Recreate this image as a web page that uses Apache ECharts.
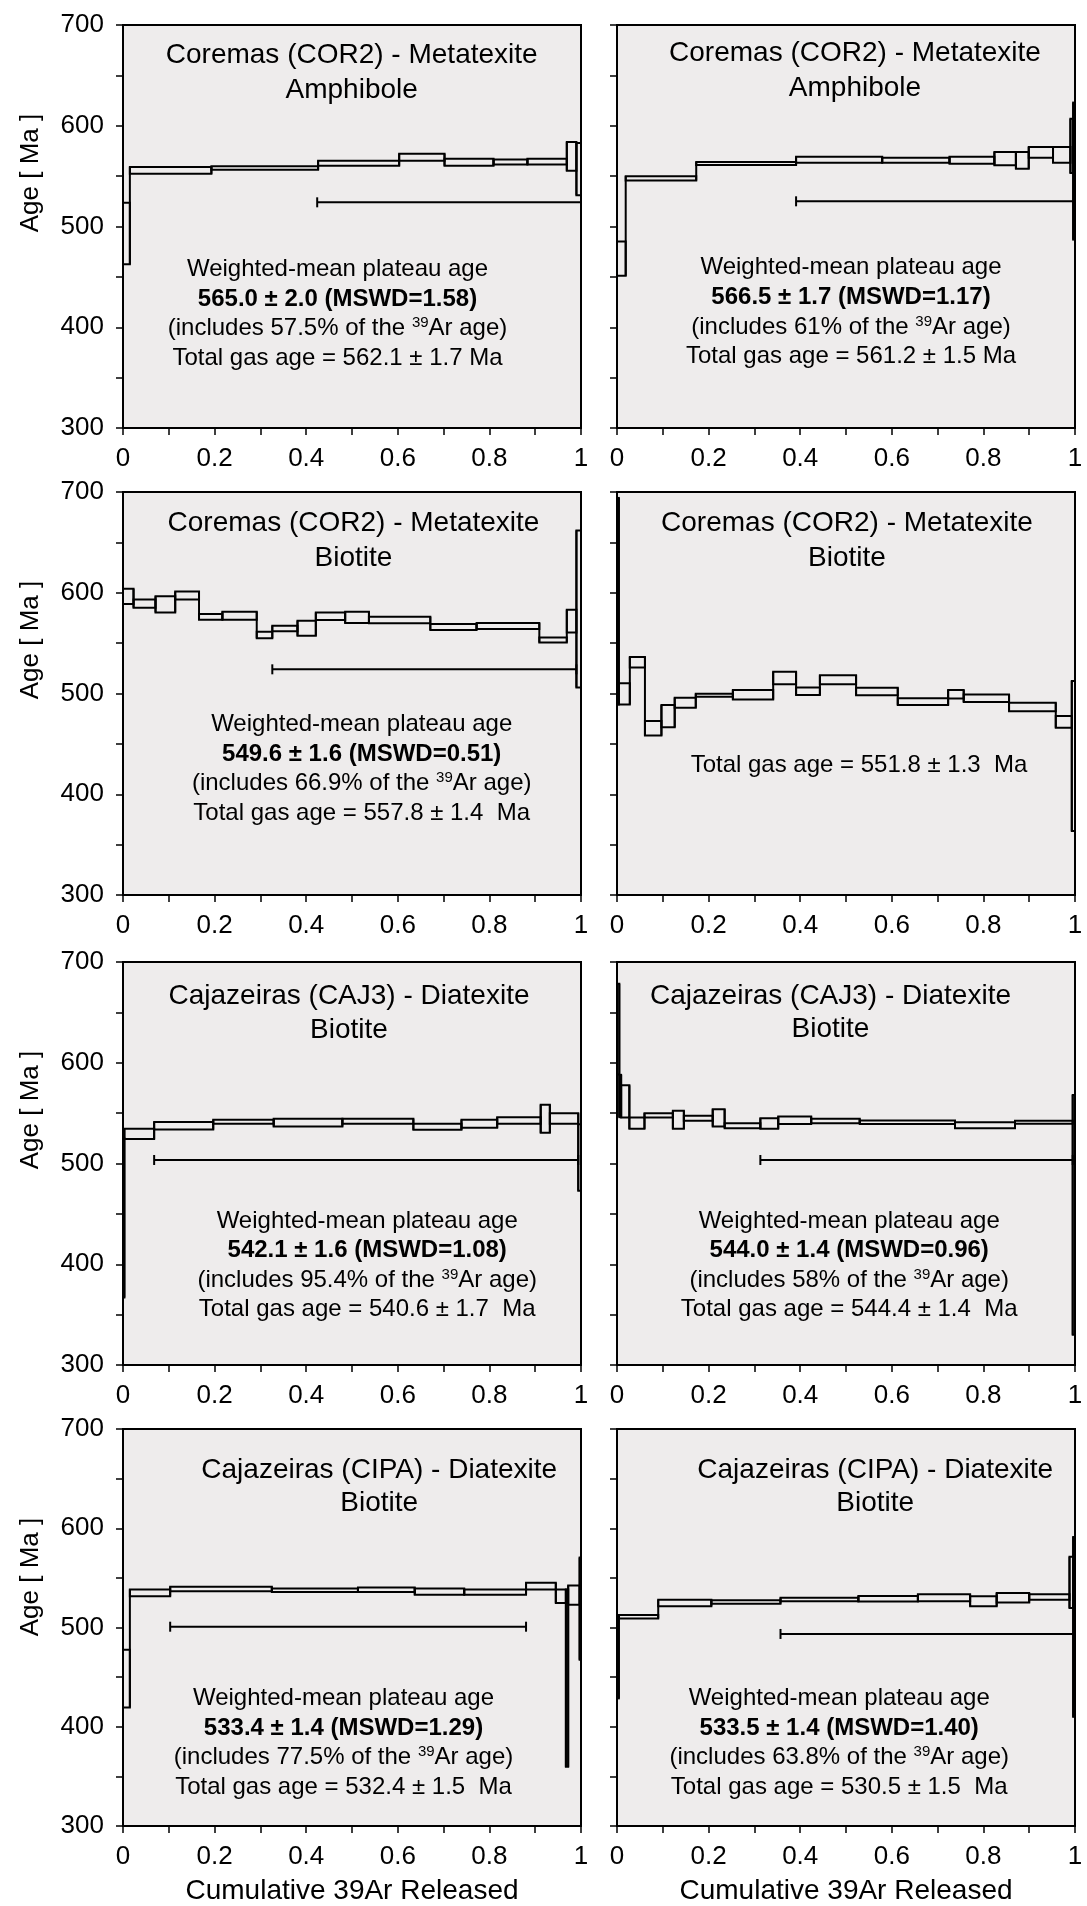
<!DOCTYPE html>
<html>
<head>
<meta charset="utf-8">
<script src="https://cdn.jsdelivr.net/npm/echarts@6/dist/echarts.min.js"></script>
<style>
  html, body { margin: 0; padding: 0; background: #fff; }
  #chart { width: 1087px; height: 1906px; }
</style>
</head>
<body>
<div id="chart"></div>
<script>
// step heating spectra: cumulative 39Ar boundaries, step ages and 1-sigma errors (Ma)
const corAmphACum = [0, 0.015, 0.193, 0.426, 0.603, 0.702, 0.809, 0.883, 0.969, 0.990, 1.0];
const corAmphAAge = [493, 555.7, 558.1, 562.8, 568.8, 563.8, 564.1, 564.4, 569.6, 557];
const corAmphAErr = [30.5, 3.4, 1.8, 2.5, 3.5, 3.5, 2.5, 2.8, 14.3, 26];
const corAmphAPlateau = [0.424, 1.0, 524];

const corAmphBCum = [0, 0.019, 0.173, 0.391, 0.579, 0.726, 0.824, 0.871, 0.899, 0.952, 0.990, 0.996, 1.0];
const corAmphBAge = [468, 547.8, 562.5, 566.3, 565.8, 565.8, 567.3, 565.6, 573.6, 571, 580, 555];
const corAmphBErr = [17, 2.2, 1.5, 3, 2.5, 3.5, 6.6, 8.3, 5.3, 7.8, 27, 68];
const corAmphBPlateau = [0.391, 1.0, 525];

const corBioACum = [0, 0.023, 0.071, 0.114, 0.166, 0.217, 0.292, 0.326, 0.381, 0.421, 0.485, 0.537, 0.671, 0.772, 0.909, 0.969, 0.990, 1.0];
const corBioAAge = [596.4, 589.2, 588.5, 597.2, 576.1, 577.2, 558.1, 564.6, 564.8, 576.6, 575.6, 573, 566, 567, 553.2, 571.9, 583.9];
const corBioAErr = [7.5, 4, 8, 4, 2.8, 4, 3.2, 2.7, 7.5, 3.7, 5.6, 3.2, 3, 3, 2.5, 11.3, 78];
const corBioAPlateau = [0.326, 0.990, 524];

const corBioBCum = [0, 0.004, 0.028, 0.061, 0.097, 0.126, 0.172, 0.253, 0.341, 0.391, 0.443, 0.522, 0.613, 0.723, 0.757, 0.856, 0.958, 0.993, 1.0];
const corBioBAge = [591.6, 499.7, 531, 465.4, 477.5, 490.9, 498.3, 498.8, 515.3, 502.2, 513.6, 502, 491.9, 499.3, 495.3, 486.7, 471.8, 438];
const corBioBErr = [102.5, 10.5, 5.3, 7.2, 11, 5, 1.5, 4.7, 6.2, 3.7, 4.5, 3.8, 3.3, 4.2, 3.8, 4.2, 5.8, 74.5];

const caj3ACum = [0, 0.003, 0.068, 0.197, 0.329, 0.479, 0.634, 0.739, 0.817, 0.912, 0.932, 0.994, 1.0];
const caj3AAge = [446, 529.4, 537.4, 541.4, 540.5, 541.9, 536.4, 539.4, 542.7, 544.4, 544.7, 506];
const caj3AErr = [79, 5, 3.7, 2, 3.8, 2.5, 3, 4, 3.3, 14, 5.3, 33];
const caj3APlateau = [0.068, 0.994, 503.5];

const caj3BCum = [0, 0.005, 0.009, 0.027, 0.06, 0.122, 0.146, 0.209, 0.235, 0.313, 0.352, 0.424, 0.53, 0.738, 0.869, 0.995, 1.0];
const caj3BAge = [633.4, 567, 561.6, 540, 547.8, 543.4, 544.9, 545.3, 537.5, 539.7, 543, 542.2, 541, 538, 540.9, 449];
const caj3BErr = [45, 21, 16, 5.6, 2.2, 9, 2.5, 8.6, 2.5, 5.3, 3.7, 2.2, 1.7, 3, 1.5, 119];
const caj3BPlateau = [0.313, 0.995, 503.5];

const cipaACum = [0, 0.015, 0.103, 0.325, 0.513, 0.637, 0.745, 0.880, 0.945, 0.967, 0.972, 0.997, 1.0];
const cipaAAge = [448.5, 534.9, 538.7, 537.5, 538, 536.2, 535.7, 541.7, 531.6, 449, 532.7, 519];
const cipaAErr = [29, 3.5, 2.3, 1.8, 2.3, 3.2, 2.7, 3.3, 6.8, 89.4, 9.7, 51.5];
const cipaAPlateau = [0.103, 0.880, 500.8];

const cipaBCum = [0, 0.004, 0.09, 0.206, 0.357, 0.527, 0.657, 0.771, 0.829, 0.9, 0.988, 0.996, 1.0];
const cipaBAge = [469.6, 510.8, 524.7, 525.7, 528.2, 529, 529.9, 526.4, 529.9, 530.7, 545.5, 500.6];
const cipaBErr = [41, 1.7, 3.3, 1.7, 1.8, 2.7, 3.5, 5, 4.8, 2.7, 25.8, 90.6];
const cipaBPlateau = [0.357, 1.0, 493.5];

const xTicks = [0, 0.2, 0.4, 0.6, 0.8, 1];
const yTicks = [300, 400, 500, 600, 700];

const FONT = '"Liberation Sans", Arial, Helvetica, sans-serif';
const LEFT = [123, 617];
const TOP = [25, 492, 962, 1429];
const W = 458, H = 403;

const panels = [
  { row: 0, col: 0, cum: corAmphACum, age: corAmphAAge, err: corAmphAErr, plateau: corAmphAPlateau,
    title: ['Coremas (COR2) - Metatexite', 'Amphibole'], tPos: [228.7, 30.7, 65],
    lines: ['Weighted-mean plateau age', '565.0 ± 2.0 (MSWD=1.58)', '(includes 57.5% of the {sup|39}Ar age)', 'Total gas age = 562.1 ± 1.7 Ma'], lPos: [214.5, 244.3] },
  { row: 0, col: 1, cum: corAmphBCum, age: corAmphBAge, err: corAmphBErr, plateau: corAmphBPlateau,
    title: ['Coremas (COR2) - Metatexite', 'Amphibole'], tPos: [238, 28.3, 63.3],
    lines: ['Weighted-mean plateau age', '566.5 ± 1.7 (MSWD=1.17)', '(includes 61% of the {sup|39}Ar age)', 'Total gas age = 561.2 ± 1.5 Ma'], lPos: [234, 242.7] },
  { row: 1, col: 0, cum: corBioACum, age: corBioAAge, err: corBioAErr, plateau: corBioAPlateau,
    title: ['Coremas (COR2) - Metatexite', 'Biotite'], tPos: [230.5, 31.3, 66.3],
    lines: ['Weighted-mean plateau age', '549.6 ± 1.6 (MSWD=0.51)', '(includes 66.9% of the {sup|39}Ar age)', 'Total gas age = 557.8 ± 1.4  Ma'], lPos: [238.7, 232.3] },
  { row: 1, col: 1, cum: corBioBCum, age: corBioBAge, err: corBioBErr, plateau: null,
    title: ['Coremas (COR2) - Metatexite', 'Biotite'], tPos: [230, 31.3, 66.3],
    lines: ['Total gas age = 551.8 ± 1.3  Ma'], lPos: [242, 273] },
  { row: 2, col: 0, cum: caj3ACum, age: caj3AAge, err: caj3AErr, plateau: caj3APlateau,
    title: ['Cajazeiras (CAJ3) - Diatexite', 'Biotite'], tPos: [226, 34.7, 68],
    lines: ['Weighted-mean plateau age', '542.1 ± 1.6 (MSWD=1.08)', '(includes 95.4% of the {sup|39}Ar age)', 'Total gas age = 540.6 ± 1.7  Ma'], lPos: [244.2, 259] },
  { row: 2, col: 1, cum: caj3BCum, age: caj3BAge, err: caj3BErr, plateau: caj3BPlateau,
    title: ['Cajazeiras (CAJ3) - Diatexite', 'Biotite'], tPos: [213.5, 34.7, 67],
    lines: ['Weighted-mean plateau age', '544.0 ± 1.4 (MSWD=0.96)', '(includes 58% of the {sup|39}Ar age)', 'Total gas age = 544.4 ± 1.4  Ma'], lPos: [232.2, 259] },
  { row: 3, col: 0, cum: cipaACum, age: cipaAAge, err: cipaAErr, plateau: cipaAPlateau,
    title: ['Cajazeiras (CIPA) - Diatexite', 'Biotite'], tPos: [256.2, 41, 74.3],
    lines: ['Weighted-mean plateau age', '533.4 ± 1.4 (MSWD=1.29)', '(includes 77.5% of the {sup|39}Ar age)', 'Total gas age = 532.4 ± 1.5  Ma'], lPos: [220.5, 269.3] },
  { row: 3, col: 1, cum: cipaBCum, age: cipaBAge, err: cipaBErr, plateau: cipaBPlateau,
    title: ['Cajazeiras (CIPA) - Diatexite', 'Biotite'], tPos: [258.2, 41, 74.3],
    lines: ['Weighted-mean plateau age', '533.5 ± 1.4 (MSWD=1.40)', '(includes 63.8% of the {sup|39}Ar age)', 'Total gas age = 530.5 ± 1.5  Ma'], lPos: [222.2, 269.3] }
];

const LINE = { stroke: '#000', lineWidth: 2 };

function renderStep(params, api) {
  const a = api.coord([api.value(0), api.value(3)]);
  const b = api.coord([api.value(1), api.value(2)]);
  return {
    type: 'rect',
    shape: { x: a[0], y: a[1], width: b[0] - a[0], height: b[1] - a[1] },
    style: { fill: 'none', stroke: '#000', lineWidth: 2 }
  };
}

// vertical edge joining two neighbouring steps
function renderJoin(params, api) {
  const a = api.coord([api.value(0), api.value(1)]);
  const b = api.coord([api.value(0), api.value(2)]);
  return { type: 'line', shape: { x1: a[0], y1: a[1], x2: b[0], y2: b[1] }, style: LINE };
}

function renderPlateau(params, api) {
  const a = api.coord([api.value(0), api.value(2)]);
  const b = api.coord([api.value(1), api.value(2)]);
  return {
    type: 'group',
    children: [
      { type: 'line', shape: { x1: a[0], y1: a[1], x2: b[0], y2: b[1] }, style: LINE },
      { type: 'line', shape: { x1: a[0], y1: a[1] - 5, x2: a[0], y2: a[1] + 5 }, style: LINE },
      { type: 'line', shape: { x1: b[0], y1: b[1] - 5, x2: b[0], y2: b[1] + 5 }, style: LINE }
    ]
  };
}

const grids = [], xAxes = [], yAxes = [], series = [], graphics = [];

panels.forEach((p, i) => {
  const left = LEFT[p.col], top = TOP[p.row];
  grids.push({ left: left, top: top, width: W, height: H, show: true,
    backgroundColor: '#eeecec', borderColor: '#000', borderWidth: 2 });

  xAxes.push({
    gridIndex: i, type: 'value', min: 0, max: 1, interval: 0.1,
    axisLine: { onZero: false, lineStyle: { color: '#000', width: 2 } },
    axisTick: { length: 7, lineStyle: { color: '#000', width: 1.5 } },
    axisLabel: { margin: 18, fontSize: 26, color: '#000', fontFamily: FONT,
      showMinLabel: true, showMaxLabel: true,
      formatter: v => {
        const t = xTicks.find(x => Math.abs(x - v) < 1e-6);
        return t === undefined ? '' : String(t);
      } },
    splitLine: { show: false },
    name: p.row === 3 ? 'Cumulative 39Ar Released' : '',
    nameLocation: 'middle', nameGap: 51,
    nameTextStyle: { fontSize: 28, color: '#000', fontFamily: FONT }
  });

  yAxes.push({
    gridIndex: i, type: 'value', min: 300, max: 700, interval: 50,
    axisLine: { onZero: false, lineStyle: { color: '#000', width: 2 } },
    axisTick: { length: 7, lineStyle: { color: '#000', width: 1.5 } },
    axisLabel: { show: p.col === 0, margin: 19, fontSize: 26, color: '#000', fontFamily: FONT,
      formatter: v => yTicks.indexOf(v) >= 0 ? String(v) : '' },
    splitLine: { show: false }
  });

  const steps = p.age.map((a, k) => [p.cum[k], p.cum[k + 1], a - p.err[k], a + p.err[k]]);
  const joins = steps.slice(1).map((s, k) => [s[0],
    Math.min(s[2], steps[k][2]), Math.max(s[3], steps[k][3])]);
  series.push({
    type: 'custom', xAxisIndex: i, yAxisIndex: i, renderItem: renderStep,
    encode: { x: [0, 1], y: [2, 3] }, data: steps, z: 3, silent: true
  });
  series.push({
    type: 'custom', xAxisIndex: i, yAxisIndex: i, renderItem: renderJoin,
    encode: { x: 0, y: [1, 2] }, data: joins, z: 3, silent: true
  });
  if (p.plateau) {
    series.push({
      type: 'custom', xAxisIndex: i, yAxisIndex: i, renderItem: renderPlateau,
      encode: { x: [0, 1], y: 2 }, data: [p.plateau], z: 2, silent: true
    });
  }

  // annotations
  p.title.forEach((t, k) => {
    graphics.push({ type: 'text', x: left + p.tPos[0], y: top + p.tPos[k + 1], z: 10,
      style: { text: t, fontSize: 28, fontFamily: FONT, fill: '#000', textAlign: 'center', verticalAlign: 'middle' } });
  });
  p.lines.forEach((t, k) => {
    const bold = t.indexOf('MSWD') >= 0;
    graphics.push({ type: 'text', x: left + p.lPos[0], y: top + p.lPos[1] + k * 29.6, z: 10,
      style: { text: t, fontSize: 24, fontWeight: bold ? 'bold' : 'normal', fontFamily: FONT, fill: '#000',
        textAlign: 'center', verticalAlign: 'middle',
        rich: { sup: { fontSize: 15, fontFamily: FONT, verticalAlign: 'top', lineHeight: 26 } } } });
  });
  if (p.col === 0) {
    graphics.push({ type: 'text', x: 31, y: top + 148, rotation: Math.PI / 2, z: 10,
      style: { text: 'Age [ Ma ]', fontSize: 26, fontFamily: FONT, fill: '#000', textAlign: 'center', verticalAlign: 'middle' } });
  }
});

const chart = echarts.init(document.getElementById('chart'), null, { renderer: 'canvas' });
chart.setOption({
  animation: false,
  backgroundColor: '#fff',
  grid: grids,
  xAxis: xAxes,
  yAxis: yAxes,
  series: series,
  graphic: graphics
});
</script>
</body>
</html>
